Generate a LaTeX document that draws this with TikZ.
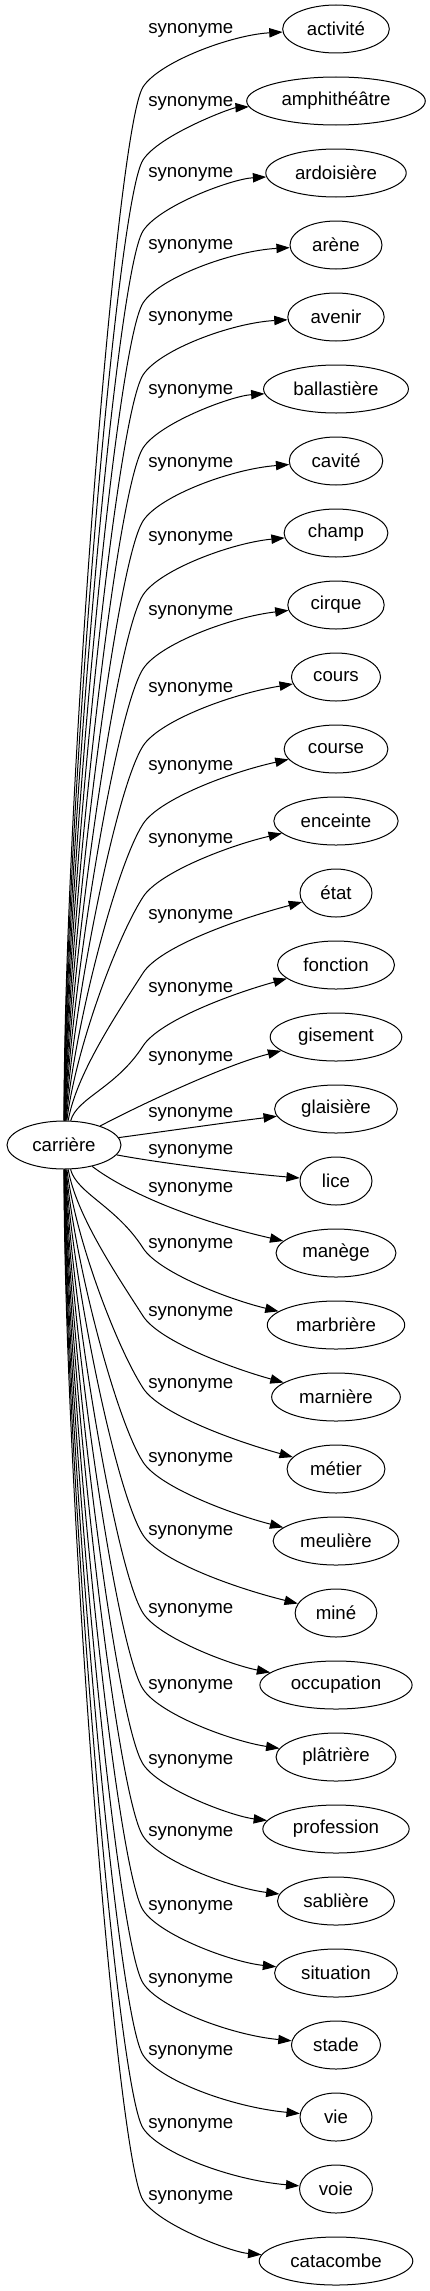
\documentclass[tikz,border=0pt]{standalone}
\usepackage{fontspec}
\setmainfont{Liberation Sans}
\usetikzlibrary{shapes.geometric,arrows.meta}

\begin{document}
\begin{tikzpicture}
            [every node/.style={inner sep=0pt, font=\fontsize{14pt}{16.8pt}\selectfont},
             word/.style={ellipse, minimum width=54pt, minimum height=36pt, inner xsep=6.5pt, fill=white, line width=0.75pt, draw=black},
             rel/.style={anchor=west, text=black},
             syn/.style={line width=0.75pt, -{Triangle[length=10pt, width=7pt]}, color=black}]
                \useasboundingbox (0pt, 0pt) rectangle (321.75pt, -1718.25pt);
                \node (0) [word] at (48pt, -858.75pt) {carrière};
                \node (1) [word] at (252pt, -21.75pt) {activité};
                \node (2) [word] at (252pt, -75.75pt) {amphithéâtre};
                \node (3) [word] at (252pt, -129.75pt) {ardoisière};
                \node (4) [word] at (252pt, -183.75pt) {arène};
                \node (5) [word] at (252pt, -237.75pt) {avenir};
                \node (6) [word] at (252pt, -291.75pt) {ballastière};
                \node (7) [word] at (252pt, -345.75pt) {cavité};
                \node (8) [word] at (252pt, -399.75pt) {champ};
                \node (9) [word] at (252pt, -453.75pt) {cirque};
                \node (10) [word] at (252pt, -507.75pt) {cours};
                \node (11) [word] at (252pt, -561.75pt) {course};
                \node (12) [word] at (252pt, -615.75pt) {enceinte};
                \node (13) [word] at (252pt, -669.75pt) {état};
                \node (14) [word] at (252pt, -723.75pt) {fonction};
                \node (15) [word] at (252pt, -777.75pt) {gisement};
                \node (16) [word] at (252pt, -831.75pt) {glaisière};
                \node (17) [word] at (252pt, -885.75pt) {lice};
                \node (18) [word] at (252pt, -939.75pt) {manège};
                \node (19) [word] at (252pt, -993.75pt) {marbrière};
                \node (20) [word] at (252pt, -1047.75pt) {marnière};
                \node (21) [word] at (252pt, -1101.75pt) {métier};
                \node (22) [word] at (252pt, -1155.75pt) {meulière};
                \node (23) [word] at (252pt, -1209.75pt) {miné};
                \node (24) [word] at (252pt, -1263.75pt) {occupation};
                \node (25) [word] at (252pt, -1317.75pt) {plâtrière};
                \node (26) [word] at (252pt, -1371.75pt) {profession};
                \node (27) [word] at (252pt, -1425.75pt) {sablière};
                \node (28) [word] at (252pt, -1479.75pt) {situation};
                \node (29) [word] at (252pt, -1533.75pt) {stade};
                \node (30) [word] at (252pt, -1587.75pt) {vie};
                \node (31) [word] at (252pt, -1641.75pt) {voie};
                \node (32) [word] at (252pt, -1695.75pt) {catacombe};
                \node (e1) [rel] at (111pt, -22.5pt) {synonyme};
                \node (e2) [rel] at (111pt, -77.25pt) {synonyme};
                \node (e3) [rel] at (111pt, -130.5pt) {synonyme};
                \node (e4) [rel] at (111pt, -184.5pt) {synonyme};
                \node (e5) [rel] at (111pt, -238.5pt) {synonyme};
                \node (e6) [rel] at (111pt, -293.25pt) {synonyme};
                \node (e7) [rel] at (111pt, -348pt) {synonyme};
                \node (e8) [rel] at (111pt, -403.5pt) {synonyme};
                \node (e9) [rel] at (111pt, -459pt) {synonyme};
                \node (e10) [rel] at (111pt, -516.75pt) {synonyme};
                \node (e11) [rel] at (111pt, -575.25pt) {synonyme};
                \node (e12) [rel] at (111pt, -630pt) {synonyme};
                \node (e13) [rel] at (111pt, -687pt) {synonyme};
                \node (e14) [rel] at (111pt, -741.75pt) {synonyme};
                \node (e15) [rel] at (111pt, -793.5pt) {synonyme};
                \node (e16) [rel] at (111pt, -835.5pt) {synonyme};
                \node (e17) [rel] at (111pt, -863.25pt) {synonyme};
                \node (e18) [rel] at (111pt, -891.75pt) {synonyme};
                \node (e19) [rel] at (111pt, -933.75pt) {synonyme};
                \node (e20) [rel] at (111pt, -984.75pt) {synonyme};
                \node (e21) [rel] at (111pt, -1038.75pt) {synonyme};
                \node (e22) [rel] at (111pt, -1094.25pt) {synonyme};
                \node (e23) [rel] at (111pt, -1149pt) {synonyme};
                \node (e24) [rel] at (111pt, -1207.5pt) {synonyme};
                \node (e25) [rel] at (111pt, -1264.5pt) {synonyme};
                \node (e26) [rel] at (111pt, -1320.75pt) {synonyme};
                \node (e27) [rel] at (111pt, -1374.75pt) {synonyme};
                \node (e28) [rel] at (111pt, -1430.25pt) {synonyme};
                \node (e29) [rel] at (111pt, -1485pt) {synonyme};
                \node (e30) [rel] at (111pt, -1539pt) {synonyme};
                \node (e31) [rel] at (111pt, -1593.75pt) {synonyme};
                \node (e32) [rel] at (111pt, -1647.75pt) {synonyme};
                \draw [syn] (0) .. controls (48pt, -600.4pt) and (87pt, -96.75pt) .. (107.25pt, -65.25pt) .. controls (119.25pt, -46.5pt) and (173.25pt, -26.25pt) .. (1);
                \draw [syn] (0) .. controls (48.75pt, -617.3pt) and (87pt, -151.5pt) .. (107.25pt, -120pt) .. controls (119.25pt, -101.25pt) and (173.25pt, -81pt) .. (2);
                \draw [syn] (0) .. controls (49.5pt, -633.8pt) and (87pt, -204.75pt) .. (107.25pt, -173.25pt) .. controls (119.25pt, -154.5pt) and (173.25pt, -134.25pt) .. (3);
                \draw [syn] (0) .. controls (50.25pt, -650.6pt) and (87pt, -258.75pt) .. (107.25pt, -227.25pt) .. controls (119.25pt, -208.5pt) and (173.25pt, -188.25pt) .. (4);
                \draw [syn] (0) .. controls (51pt, -667.3pt) and (87pt, -312.75pt) .. (107.25pt, -281.25pt) .. controls (119.25pt, -262.5pt) and (173.25pt, -242.25pt) .. (5);
                \draw [syn] (0) .. controls (51.75pt, -684.3pt) and (87pt, -367.5pt) .. (107.25pt, -336pt) .. controls (119.25pt, -317.25pt) and (173.25pt, -297pt) .. (6);
                \draw [syn] (0) .. controls (52.5pt, -701.25pt) and (87pt, -422.25pt) .. (107.25pt, -390.75pt) .. controls (119.25pt, -372pt) and (173.25pt, -351.75pt) .. (7);
                \draw [syn] (0) .. controls (53.25pt, -718.5pt) and (87pt, -477.75pt) .. (107.25pt, -446.25pt) .. controls (119.25pt, -427.5pt) and (173.25pt, -407.25pt) .. (8);
                \draw [syn] (0) .. controls (54pt, -735.7pt) and (87pt, -533.25pt) .. (107.25pt, -501.75pt) .. controls (119.25pt, -483pt) and (173.25pt, -462.75pt) .. (9);
                \draw [syn] (0) .. controls (54.75pt, -753.6pt) and (87pt, -591pt) .. (107.25pt, -559.5pt) .. controls (119.25pt, -540.75pt) and (173.25pt, -520.5pt) .. (10);
                \draw [syn] (0) .. controls (55.5pt, -771.7pt) and (87pt, -649.5pt) .. (107.25pt, -618pt) .. controls (119.25pt, -599.25pt) and (173.25pt, -579pt) .. (11);
                \draw [syn] (0) .. controls (56.25pt, -788.7pt) and (87pt, -704.25pt) .. (107.25pt, -672.75pt) .. controls (119.25pt, -654pt) and (173.25pt, -633.75pt) .. (12);
                \draw [syn] (0) .. controls (57pt, -806.3pt) and (87pt, -761.25pt) .. (107.25pt, -729.75pt) .. controls (119.25pt, -711pt) and (173.25pt, -690.75pt) .. (13);
                \draw [syn] (0) .. controls (57.75pt, -823.3pt) and (87pt, -816pt) .. (107.25pt, -784.5pt) .. controls (119.25pt, -765.75pt) and (173.25pt, -745.5pt) .. (14);
                \draw [syn] (0) .. controls (105pt, -828.75pt) and (168.75pt, -798.75pt) .. (15);
                \draw [syn] (0) .. controls (120pt, -849pt) and (172.5pt, -841.5pt) .. (16);
                \draw [syn] (0) .. controls (120pt, -872.25pt) and (180pt, -879.75pt) .. (17);
                \draw [syn] (0) .. controls (97.5pt, -896.25pt) and (150pt, -916.5pt) .. (18);
                \draw [syn] (0) .. controls (57.75pt, -895.1pt) and (87pt, -904.5pt) .. (107.25pt, -936pt) .. controls (119.25pt, -954.75pt) and (173.25pt, -975pt) .. (19);
                \draw [syn] (0) .. controls (57pt, -910.9pt) and (87pt, -955.5pt) .. (107.25pt, -987pt) .. controls (119.25pt, -1005.75pt) and (173.25pt, -1026pt) .. (20);
                \draw [syn] (0) .. controls (56.25pt, -927.7pt) and (87pt, -1009.5pt) .. (107.25pt, -1041pt) .. controls (119.25pt, -1059.75pt) and (173.25pt, -1080pt) .. (21);
                \draw [syn] (0) .. controls (55.5pt, -944.9pt) and (87pt, -1065pt) .. (107.25pt, -1096.5pt) .. controls (119.25pt, -1115.25pt) and (173.25pt, -1135.5pt) .. (22);
                \draw [syn] (0) .. controls (54.75pt, -961.8pt) and (87pt, -1119.75pt) .. (107.25pt, -1151.25pt) .. controls (119.25pt, -1170pt) and (173.25pt, -1190.25pt) .. (23);
                \draw [syn] (0) .. controls (54pt, -980pt) and (87pt, -1178.25pt) .. (107.25pt, -1209.75pt) .. controls (119.25pt, -1228.5pt) and (173.25pt, -1248.75pt) .. (24);
                \draw [syn] (0) .. controls (53.25pt, -997.7pt) and (87pt, -1235.25pt) .. (107.25pt, -1266.75pt) .. controls (119.25pt, -1285.5pt) and (173.25pt, -1305.75pt) .. (25);
                \draw [syn] (0) .. controls (52.5pt, -1015.1pt) and (87pt, -1291.5pt) .. (107.25pt, -1323pt) .. controls (119.25pt, -1341.75pt) and (173.25pt, -1362pt) .. (26);
                \draw [syn] (0) .. controls (51.75pt, -1031.8pt) and (87pt, -1345.5pt) .. (107.25pt, -1377pt) .. controls (119.25pt, -1395.75pt) and (173.25pt, -1416pt) .. (27);
                \draw [syn] (0) .. controls (51pt, -1049pt) and (87pt, -1401pt) .. (107.25pt, -1432.5pt) .. controls (119.25pt, -1451.25pt) and (173.25pt, -1471.5pt) .. (28);
                \draw [syn] (0) .. controls (50.25pt, -1066pt) and (87pt, -1455.75pt) .. (107.25pt, -1487.25pt) .. controls (119.25pt, -1506pt) and (173.25pt, -1526.25pt) .. (29);
                \draw [syn] (0) .. controls (49.5pt, -1082.75pt) and (87pt, -1509.75pt) .. (107.25pt, -1541.25pt) .. controls (119.25pt, -1560pt) and (173.25pt, -1580.25pt) .. (30);
                \draw [syn] (0) .. controls (48.75pt, -1099.7pt) and (87pt, -1564.5pt) .. (107.25pt, -1596pt) .. controls (119.25pt, -1614.75pt) and (173.25pt, -1635pt) .. (31);
                \draw [syn] (0) .. controls (48pt, -1116.5pt) and (87pt, -1618.5pt) .. (107.25pt, -1650pt) .. controls (119.25pt, -1668.75pt) and (173.25pt, -1689pt) .. (32);
            \end{tikzpicture}
\end{document}
